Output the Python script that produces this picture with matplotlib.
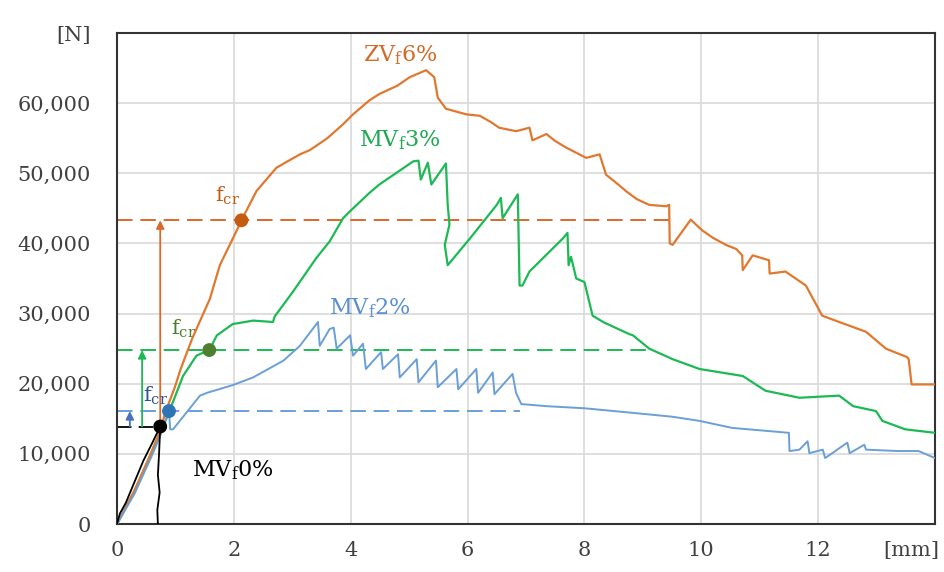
import matplotlib
matplotlib.use("Agg")
import matplotlib.pyplot as plt

# displacement [mm] / force [N]
zv6_x = [0, 0.3, 0.55, 0.7, 0.85, 0.99, 1.09, 1.29, 1.59, 1.76, 2.07, 2.13, 2.39, 2.73, 3.13,
         3.3, 3.6, 3.87, 4.04, 4.32, 4.49, 4.8, 5.01, 5.29, 5.43, 5.49, 5.63, 5.98, 6.21, 6.4,
         6.54, 6.83, 7.06, 7.11, 7.35, 7.5, 7.68, 8.03, 8.26, 8.37, 8.55, 8.72, 8.9, 9.11, 9.4,
         9.45, 9.46, 9.51, 9.82, 10.01, 10.2, 10.42, 10.6, 10.7, 10.71, 10.88, 11.16, 11.17,
         11.44, 11.79, 12.07, 12.36, 12.82, 13.16, 13.52, 13.55, 13.6, 14.0]
zv6_y = [0, 4800, 9500, 12500, 16400, 19500, 22100, 26500, 32100, 36900, 42200, 43300, 47500,
         50800, 52700, 53300, 55000, 57000, 58400, 60400, 61300, 62500, 63700, 64700, 63700,
         60800, 59200, 58400, 58200, 57300, 56500, 56000, 56500, 54700, 55600, 54600, 53700,
         52200, 52700, 49800, 48600, 47400, 46300, 45500, 45300, 45500, 40000, 39800, 43400,
         41900, 40800, 39800, 39200, 38300, 36200, 38300, 37600, 35700, 36000, 34000, 29700,
         28800, 27400, 25000, 23800, 23500, 19900, 19900]

mv3_x = [0, 0.3, 0.55, 0.75, 0.93, 1.13, 1.36, 1.58, 1.71, 1.98, 2.33, 2.67, 2.7, 3.01, 3.41,
         3.64, 3.87, 3.99, 4.32, 4.49, 5.07, 5.16, 5.2, 5.32, 5.38, 5.63, 5.66, 5.69, 5.61,
         5.66, 6.04, 6.5, 6.57, 6.6, 6.86, 6.89, 6.94, 7.06, 7.63, 7.71, 7.73, 7.77, 7.86,
         8.0, 8.14, 8.32, 8.5, 8.76, 8.83, 9.11, 9.51, 9.97, 10.71, 11.1, 11.68, 12.36, 12.6,
         12.99, 13.1, 13.49, 14.0]
mv3_y = [0, 4700, 9300, 13000, 16800, 21100, 24000, 24800, 26900, 28500, 29000, 28800, 29600,
         33100, 37900, 40300, 43600, 44600, 47200, 48400, 51700, 51800, 49100, 51500, 48400,
         51400, 45500, 42700, 39800, 36900, 40700, 45500, 46500, 43600, 47000, 34000, 34000,
         36000, 40700, 41500, 36900, 38100, 35000, 34500, 29700, 28800, 28100, 27100, 26900,
         25000, 23500, 22100, 21100, 19000, 18000, 18300, 16800, 16100, 14700, 13500, 13000]

mv2_x = [0, 0.3, 0.6, 0.75, 0.87, 0.89, 0.91, 0.96, 1.19, 1.42, 1.54, 1.98, 2.33, 2.85, 3.13,
         3.44, 3.47, 3.64, 3.71, 3.76, 3.99, 4.04, 4.21, 4.26, 4.52, 4.55, 4.81, 4.84, 5.13,
         5.16, 5.46, 5.49, 5.81, 5.84, 6.15, 6.18, 6.43, 6.46, 6.77, 6.83, 6.92, 7.35, 8.0,
         8.76, 9.5, 9.97, 10.53, 11.5, 11.51, 11.68, 11.82, 11.85, 12.08, 12.12, 12.5, 12.54,
         12.79, 12.82, 13.38, 13.72, 14.0]
mv2_y = [0, 4300, 9800, 12800, 15800, 16100, 13500, 13500, 15900, 18300, 18700, 19800, 20900,
         23300, 25400, 28800, 25400, 27800, 28000, 25000, 26900, 24000, 25700, 22100, 24500,
         22100, 24200, 20900, 23500, 20200, 23300, 19500, 22100, 19200, 22100, 18700, 21600,
         18500, 21400, 18700, 17100, 16800, 16500, 15900, 15300, 14700, 13700, 13000, 10400,
         10600, 11800, 10100, 10600, 9400, 11600, 10100, 11300, 10600, 10400, 10400, 9400]

mv0_x = [0, 0.05, 0.15, 0.3, 0.45, 0.6, 0.74, 0.72, 0.7, 0.73, 0.69, 0.7]
mv0_y = [0, 1500, 3000, 6000, 9000, 11500, 13900, 10000, 7000, 4500, 2000, 0]

# cracking points f_cr: MV0, MV2, MV3, ZV6
fcr_x = [0.74, 0.89, 1.58, 2.13]
fcr_y = [13900, 16100, 24800, 43300]
dash_end = [6.9, 9.1, 9.5]  # MV2, MV3, ZV6 dashed reference lines
arrow_x = [0.22, 0.43, 0.74]

yticks = [0, 10000, 20000, 30000, 40000, 50000, 60000, 70000]
ylabels = ["0", "10,000", "20,000", "30,000", "40,000", "50,000", "60,000", "[N]"]
xticks = [0, 2, 4, 6, 8, 10, 12]

c_or, c_gr, c_bl = "#E0782F", "#1DB954", "#6A9FD8"

plt.rcParams["font.family"] = "DejaVu Serif"
plt.rcParams["mathtext.fontset"] = "dejavuserif"

fig = plt.figure(figsize=(9.45, 5.72), dpi=100)
ax = fig.add_axes([0.1238, 0.0839, 0.8656, 0.8584])

ax.plot(mv0_x, mv0_y, color="black", lw=1.3, zorder=5)
ax.plot(mv2_x, mv2_y, color=c_bl, lw=1.4, zorder=4)
ax.plot(mv3_x, mv3_y, color=c_gr, lw=1.6, zorder=3)
ax.plot(zv6_x, zv6_y, color=c_or, lw=1.6, zorder=3)

# dashed f_cr levels
ax.plot([0, fcr_x[0]], [fcr_y[0]] * 2, color="black", lw=1.3, dashes=(8, 4))
ax.plot([0, dash_end[0]], [fcr_y[1]] * 2, color=c_bl, lw=1.4, dashes=(8, 4))
ax.plot([0, dash_end[1]], [fcr_y[2]] * 2, color=c_gr, lw=1.4, dashes=(8, 4))
ax.plot([0, dash_end[2]], [fcr_y[3]] * 2, color="#D9692A", lw=1.4, dashes=(8, 4))

# arrows from MV 0% crack load
for xa, ytop, col in zip(arrow_x, fcr_y[1:], ["#4472C4", c_gr, "#D9692A"]):
    ax.annotate("", xy=(xa, ytop), xytext=(xa, fcr_y[0]),
                arrowprops=dict(arrowstyle="-|>", color=col, lw=1.3,
                                mutation_scale=12, shrinkA=0, shrinkB=0))

ax.scatter(fcr_x, fcr_y, s=80, zorder=6,
           color=["black", "#2E75B6", "#4E7F2E", "#C55A11"])

fs = 16
ax.text(4.84, 66800, "ZV$_\\mathrm{f}$6%", color="#D46A27", fontsize=fs, ha="center", va="center")
ax.text(4.84, 54700, "MV$_\\mathrm{f}$3%", color="#1DAA50", fontsize=fs, ha="center", va="center")
ax.text(4.33, 30700, "MV$_\\mathrm{f}$2%", color="#5B8FCF", fontsize=fs, ha="center", va="center")
ax.text(1.98, 7700, "MV$_\\mathrm{f}$0%", color="black", fontsize=fs, ha="center", va="center")
ax.text(1.9, 46800, "f$_\\mathrm{cr}$", color="#C55A11", fontsize=15, ha="center", va="center")
ax.text(1.14, 27800, "f$_\\mathrm{cr}$", color="#4E7F2E", fontsize=15, ha="center", va="center")
ax.text(0.66, 18300, "f$_\\mathrm{cr}$", color="#2F5597", fontsize=15, ha="center", va="center")

ax.set_xlim(0, 14)
ax.set_ylim(0, 70000)
ax.set_yticks(yticks, ylabels)
ax.set_xticks(xticks, [str(t) for t in xticks])
ax.set_xticks([13.6], ["[mm]"], minor=True)
ax.grid(True, which="major", color="#D9D9D9", lw=1.2)
ax.set_axisbelow(True)
ax.tick_params(which="both", length=0, labelsize=15, colors="#404040")
ax.tick_params(axis="y", pad=19)
ax.tick_params(axis="x", which="both", pad=12)
for sp in ax.spines.values():
    sp.set_color("#333333")
    sp.set_linewidth(1.5)

fig.savefig("out.png", dpi=100)
